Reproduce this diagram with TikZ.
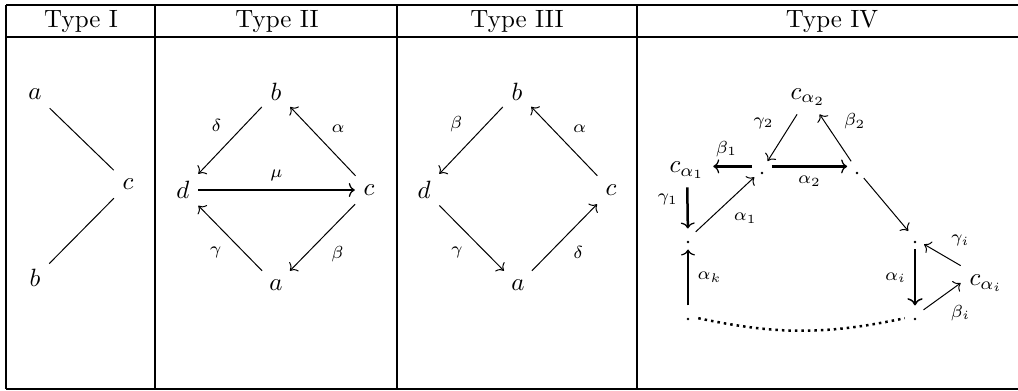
\documentclass[tikz,border=0pt]{standalone}
\usepackage{amsmath,amssymb}
\usepackage{tikz}
\usetikzlibrary{arrows.meta}

\begin{document}
\begin{tikzpicture}[x=0.4pt,y=-0.4pt,
  rule/.style={line width=0.8pt},
  heavyrule/.style={line width=1.1pt},
  arr/.style={->},
  boldarr/.style={-{Computer Modern Rightarrow[length=2.4pt,width=5.6pt,line width=0.5pt]},line width=1pt},
  lbl/.style={font=\scriptsize},
  spot/.style={circle,inner sep=0pt,minimum size=8pt},
  dots/.style={line width=1pt,dash pattern=on 1pt off 1.6pt}]
\useasboundingbox (0,0) rectangle (1018,391);

% Table
\draw[rule] (6,5) -- (1018,5);
\draw[rule] (6,37.5) -- (1018,37.5);
\draw[rule] (6,389) -- (1018,389);
\draw[heavyrule] (6,5) -- (6,389);
\draw[heavyrule] (155,5) -- (155,389);
\draw[rule] (397,5) -- (397,389);
\draw[rule] (637,5) -- (637,389);

\node (h1) at (81,22) {Type I};
\node (h2) at (277,22) {Type II};
\node (h3) at (517,22) {Type III};
\node (h4) at (832,22) {Type IV};

% Type I
\node (t1a) at (35,94) {$a$};
\node (t1c) at (128,184) {$c$};
\node (t1b) at (35,278) {$b$};
\draw (t1a) -- (t1c);
\draw (t1b) -- (t1c);

% Type II
\node (t2b) at (276,92) {$b$};
\node (t2d) at (183,190) {$d$};
\node (t2c) at (369,190) {$c$};
\node (t2a) at (276,285) {$a$};
\draw[arr] (t2b) -- node[lbl,above left] {$\delta$} (t2d);
\draw[arr] (t2c) -- node[lbl,above right] {$\alpha$} (t2b);
\draw[boldarr] (t2d) -- node[lbl,above] {$\mu$} (t2c);
\draw[arr] (t2a) -- node[lbl,below left] {$\gamma$} (t2d);
\draw[arr] (t2c) -- node[lbl,below right] {$\beta$} (t2a);

% Type III
\node (t3b) at (517,92) {$b$};
\node (t3d) at (424,190) {$d$};
\node (t3c) at (611,190) {$c$};
\node (t3a) at (518,285) {$a$};
\draw[arr] (t3b) -- node[lbl,above left] {$\beta$} (t3d);
\draw[arr] (t3c) -- node[lbl,above right] {$\alpha$} (t3b);
\draw[arr] (t3d) -- node[lbl,below left] {$\gamma$} (t3a);
\draw[arr] (t3a) -- node[lbl,below right] {$\delta$} (t3c);

% Type IV
\node (ca2) at (808,97) {$c_{\alpha_2}$};
\node (ca1) at (687,170) {$c_{\alpha_1}$};
\node (cai) at (986,283) {$c_{\alpha_i}$};
\node[spot] (p1) at (762,170) {};
\node[spot] (p2) at (857,170) {};
\node[spot] (q1) at (688,239) {};
\node[spot] (q2) at (688,316) {};
\node[spot] (q3) at (915,239) {};
\node[spot] (q4) at (915,316) {};
\foreach \s in {p1,p2,q1,q2,q3,q4}
  \fill ([yshift=-1.2pt]\s.center) circle (0.55pt);

\draw[boldarr] (p1.160) -- node[lbl,above,pos=0.66] {$\beta_1$} (p1.160 -| ca1.east);
\draw[boldarr] (p1.20) -- node[lbl,below] {$\alpha_2$} (p2.160);
\draw[arr] (ca2) -- node[lbl,above left] {$\gamma_2$} (p1);
\draw[arr] (p2) -- node[lbl,above right] {$\beta_2$} (ca2);
\draw[boldarr] (ca1) -- node[lbl,left,pos=0.3] {$\gamma_1$} (q1);
\draw[arr] (q1) -- node[lbl,below right] {$\alpha_1$} (p1);
\draw[arr] (p2) -- (q3);
\draw[boldarr] (q2) -- node[lbl,right] {$\alpha_k$} (q1);
\draw[->,semithick] (q3) -- node[lbl,left] {$\alpha_i$} (q4);
\draw[arr] (cai.north west) -- node[lbl,above right] {$\gamma_i$} (q3);
\draw[arr] (q4) -- node[lbl,below right] {$\beta_i$} (cai.west);
\draw[dots] (q2) to[bend right=12] (q4);
\end{tikzpicture}
\end{document}
